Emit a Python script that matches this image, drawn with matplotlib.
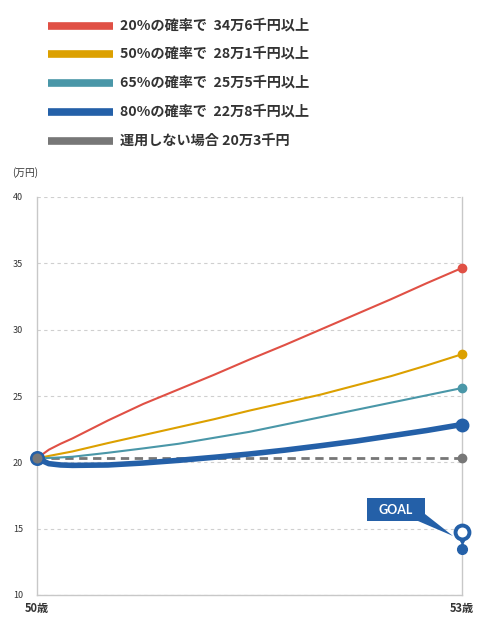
import matplotlib
matplotlib.use("Agg")
import matplotlib.pyplot as plt
from matplotlib.lines import Line2D
from matplotlib.patches import Polygon
import matplotlib.transforms as mtransforms

plt.rcParams['font.family'] = ['Noto Sans CJK JP', 'DejaVu Sans']

# months from age 50
months = [0, 1, 2, 3, 6, 9, 12, 15, 18, 21, 24, 27, 30, 33, 36]
years = [m / 12 for m in months]

p20 = [20.3, 20.95, 21.4, 21.8, 23.15, 24.4, 25.5, 26.6, 27.75, 28.85, 30.0, 31.15, 32.3, 33.5, 34.65]
p50 = [20.3, 20.48, 20.65, 20.82, 21.45, 22.05, 22.65, 23.25, 23.9, 24.5, 25.1, 25.8, 26.5, 27.3, 28.15]
p65 = [20.3, 20.33, 20.37, 20.42, 20.72, 21.05, 21.4, 21.85, 22.3, 22.85, 23.4, 23.95, 24.5, 25.05, 25.6]
p80 = [20.3, 19.9, 19.8, 19.77, 19.8, 19.95, 20.15, 20.38, 20.63, 20.92, 21.25, 21.6, 22.0, 22.4, 22.85]
no_invest = [20.3, 20.3]
no_invest_x = [0, 3]

goal_value = 13.5

legend_labels = ['20%の確率で  34万6千円以上', '50%の確率で  28万1千円以上',
                 '65%の確率で  25万5千円以上', '80%の確率で  22万8千円以上',
                 '運用しない場合 20万3千円']
colors = ['#e05045', '#dca000', '#4a97a8', '#2460a8', '#777777']

yticks = [10, 15, 20, 25, 30, 35, 40]
xtick_labels = ['50歳', '53歳']

W, H = 483, 626
fig = plt.figure(figsize=(W / 100, H / 100), dpi=100)
ax = fig.add_axes([37 / W, 1 - 595 / H, (462 - 37) / W, (595 - 197) / H])

ax.set_xlim(0, 3)
ax.set_ylim(10, 40)
ax.set_yticks(yticks)
ax.set_xticks([0, 3])
ax.set_xticklabels(xtick_labels, fontsize=8, fontweight='bold', color='#333333')
ax.tick_params(axis='y', length=0, pad=10, labelsize=6.5, labelcolor='#333333')
ax.tick_params(axis='x', length=0, pad=5)
ax.grid(axis='y', linestyle=(0, (3, 3)), color='#cfcfcf', linewidth=0.8)
ax.set_axisbelow(True)
ax.spines['top'].set_visible(False)
for s in ['left', 'right', 'bottom']:
    ax.spines[s].set_color('#c8c8c8')
    ax.spines[s].set_linewidth(1)

# no-invest dashed line
ax.plot(no_invest_x, no_invest, color=colors[4], lw=2, ls=(0, (3, 2)), zorder=3)
ax.plot(no_invest_x[-1], no_invest[-1], 'o', color=colors[4], ms=6, clip_on=False, zorder=6)

series = [p20, p50, p65, p80]
widths = [1.5, 1.5, 1.5, 4]
msizes = [6, 6, 6, 9]
for vals, c, lw, ms in zip(series, colors, widths, msizes):
    ax.plot(years, vals, color=c, lw=lw, solid_capstyle='round', solid_joinstyle='round', zorder=4)
    ax.plot(years[-1], vals[-1], 'o', color=c, ms=ms, clip_on=False, zorder=6)

# start point
ax.plot(0, p80[0], 'o', color='#777777', mec=colors[3], mew=1.8, ms=9, clip_on=False, zorder=7)

# goal marker: dot and pin above it
goal_c = '#2460a8'
ax.plot(3, goal_value, 'o', color=goal_c, ms=7, clip_on=False, zorder=6)
pin_tr = mtransforms.offset_copy(ax.transData, fig=fig, x=0, y=17, units='dots')
tip_tr = mtransforms.offset_copy(ax.transData, fig=fig, x=0, y=10, units='dots')
ax.plot(3, goal_value, 'v', color=goal_c, ms=7, transform=tip_tr, clip_on=False, zorder=6)
ax.plot(3, goal_value, 'o', mfc='white', mec=goal_c, mew=2.8, ms=10, transform=pin_tr,
        clip_on=False, zorder=7)

# GOAL callout (figure pixel coords)
def px(x, y):
    return (x / W, 1 - y / H)

box = Polygon([px(367, 498), px(425, 498), px(425, 514), px(453, 536), px(418, 521),
               px(367, 521)], closed=True, transform=fig.transFigure,
              facecolor=goal_c, edgecolor='none', zorder=8)
fig.add_artist(box)
fig.text(396 / W, 1 - 510 / H, 'GOAL', color='white', fontsize=9, fontweight='bold',
         ha='center', va='center', family=['Lato', 'DejaVu Sans'], zorder=9)

# y axis unit
fig.text(12 / W, 1 - 173 / H, '(万円)', fontsize=7, color='#333333', ha='left', va='center')

# legend
row_y = [26, 54, 83, 112, 141]
for lab, c, y in zip(legend_labels, colors, row_y):
    fig.add_artist(Line2D([48 / W, 113 / W], [1 - y / H] * 2, color=c, lw=5.5,
                          transform=fig.transFigure, solid_capstyle='butt'))
    fig.text(120 / W, 1 - y / H, lab, fontsize=10.2, fontweight='bold', color='#333333',
             ha='left', va='center')

fig.savefig('out.png', dpi=100, facecolor='white')
